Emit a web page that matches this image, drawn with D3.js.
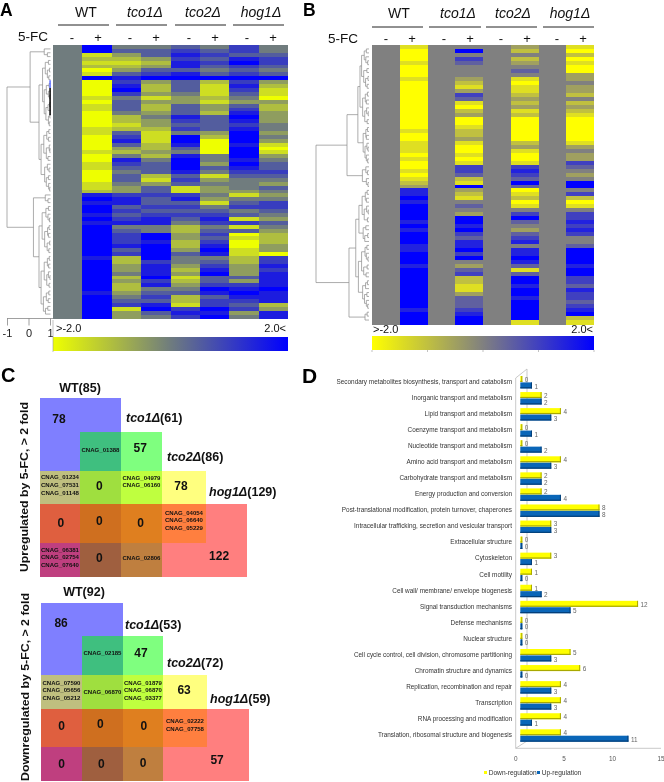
<!DOCTYPE html>
<html><head><meta charset="utf-8">
<script src="https://cdn.jsdelivr.net/npm/d3@7"></script>
<style>html,body{margin:0;padding:0;background:#fff}svg{display:block;filter:blur(0.35px)}text{font-family:"Liberation Sans",Arial,sans-serif}</style>
</head><body><div id="c"></div>
<script>
// ---------- Panel A heat map levels (0 = strong down/yellow, 4 = none/gray, 8 = strong up/blue)
const heatA_WT_minus=new Array(70).fill(4);
const heatA_WT_plus=[8,8,1,2,1,2,0,1,8,0, 0,0,0,1,0,1,1,0,0,0, 0,1,1,0,0,0,0,1,0,0, 1,1,0,0,0,1,1,2,7,8, 7,8,8,7,8,7,8,8,8,8, 8,8,8,8,7,8,8,8,8,8, 8,8,8,7,8,8,8,8,8,8];
const heatA_tco1_minus=[4,5,3,2,1,2,3,5,7,6, 7,8,6,4,5,5,5,4,2,2, 1,2,5,6,7,5,3,2,4,7, 6,5,4,5,5,4,3,3,6,7, 7,5,6,5,6,7,4,5,6,6, 6,7,5,6,2,2,3,3,4,2, 3,2,2,3,4,5,6,1,3,3];
const heatA_tco1_plus=[4,5,5,3,2,3,5,6,8,3, 2,2,3,1,3,2,2,3,4,3, 3,2,1,1,1,2,2,3,2,4, 5,5,5,2,1,3,5,5,6,5, 5,6,5,6,7,7,4,4,8,8, 7,8,8,8,8,6,7,7,7,8, 6,7,4,5,6,5,7,8,5,4];
const heatA_tco2_minus=[5,6,7,6,7,7,5,7,8,5, 5,5,4,3,3,5,5,5,7,6, 5,6,4,8,8,7,5,4,7,8, 8,8,7,5,6,5,1,1,6,7, 5,6,5,6,5,4,2,2,3,3, 2,2,3,5,4,4,3,2,3,1, 2,3,4,5,2,2,1,6,7,6];
const heatA_tco2_plus=[4,5,6,5,6,5,4,5,8,2, 1,1,1,2,1,3,3,2,5,5, 5,5,3,2,0,0,0,0,4,4, 3,5,4,1,3,4,3,3,4,3, 1,4,5,6,7,6,4,5,6,5, 6,7,8,7,4,5,6,7,8,5, 5,6,8,7,5,6,6,8,7,8];
const heatA_hog1_minus=[6,6,5,7,8,6,5,6,8,6, 7,6,5,4,3,5,6,7,8,7, 6,7,8,8,8,7,8,8,8,7, 8,7,6,5,4,4,4,3,1,4, 5,6,4,5,1,6,1,5,0,1, 0,0,1,1,2,2,3,3,3,5, 3,6,7,8,7,6,5,6,3,4];
const heatA_hog1_plus=[4,4,5,6,6,5,4,5,8,3, 2,1,1,0,3,2,2,3,3,3, 4,4,3,4,3,1,0,1,3,4, 5,5,6,5,4,3,5,4,3,4, 6,6,5,4,3,5,4,3,2,2, 2,3,3,0,6,6,7,6,7,7, 7,7,8,7,7,7,2,3,7,7];
// ---------- Panel B heat map levels
const heatB_WT_minus=new Array(70).fill(4);
const heatB_WT_plus=[1,0,0,0,1,0,0,0,1,0, 0,0,0,0,0,0,0,0,0,0, 0,1,0,0,1,1,1,0,1,0, 0,1,0,1,2,3,7,7,8,7, 8,8,8,8,7,8,7,8,8,8, 7,7,8,8,8,7,8,8,8,8, 8,8,8,8,8,8,7,8,8,8];
const heatB_tco1_plus=[4,8,4,6,5,4,4,4,3,2, 1,3,6,5,1,0,2,3,0,0, 1,2,2,3,1,0,0,1,0,1, 6,6,5,2,1,8,3,2,1,4, 5,4,3,8,8,7,8,6,5,7, 7,8,6,8,4,3,5,6,2,2, 1,1,3,5,5,5,6,7,8,8];
const heatB_tco2_plus=[3,2,4,2,3,4,5,4,1,0, 1,1,2,3,2,3,1,2,0,0, 0,0,0,0,2,3,1,0,0,1, 6,7,6,5,8,5,0,1,2,0, 1,4,6,8,5,4,3,5,6,7, 4,7,7,8,7,5,1,5,8,8, 7,8,8,7,8,8,8,8,8,1];
const heatB_hog1_plus=[1,0,2,0,1,0,0,3,3,4, 3,3,2,4,2,3,2,1,0,0, 0,0,0,0,1,3,4,3,3,6, 5,4,3,4,8,8,4,6,2,0, 1,4,6,6,7,6,7,6,4,4, 5,8,8,8,8,7,8,8,6,6, 5,7,6,6,5,6,7,8,2,1];
const strains=["WT","tco1","tco2","hog1"];
const fcSigns=["-","+","-","+","-","+","-","+"];
// ---------- Dendrograms: [correlation, child, child]; 1 = a gene leaf
const dendroA=[-1,
 [0.05,[0.7,1,[0.85,1,1]],
  [0.45,
   [0.62,[0.75,[0.9,1,1],[0.85,[0.95,1,1],[0.92,1,1]]],
         [0.7,[0.8,[0.93,1,1],[0.9,1,[0.96,1,1]]],[0.78,[0.88,[0.95,1,1],1],[0.9,[0.97,1,1],[0.94,1,1]]]]],
   [0.55,[0.68,[0.82,[0.92,1,1],[0.9,1,1]],[0.8,[0.94,1,[0.97,1,1]],[0.88,1,1]]],
         [0.72,[0.85,1,[0.93,1,1]],[0.8,[0.9,1,1],[0.91,1,[0.96,1,1]]]]]]],
 [0.2,[0.75,1,[0.88,1,1]],
  [0.45,
   [0.6,[0.78,[0.9,1,1],[0.88,1,[0.95,1,1]]],[0.72,[0.86,[0.93,1,1],[0.9,1,1]],[0.84,[0.96,1,1],[0.92,1,1]]]],
   [0.55,[0.7,[0.85,[0.94,1,1],[0.91,1,1]],[0.82,[0.9,1,[0.97,1,1]],[0.93,1,1]]],
         [0.66,[0.8,[0.92,1,1],[0.89,1,1]],[0.76,[0.87,1,1],1]]]]]];
const dendroB=[-1,
 [0.17,
  [0.58,
   [0.66,[0.72,[0.82,[0.9,1,1],[0.88,1,[0.95,1,1]]],[0.8,[0.92,1,1],[0.87,[0.96,1,1],[0.93,1,1]]]],
         [0.76,[0.86,[0.94,1,1],[0.9,1,1]],[0.84,[0.91,1,[0.97,1,1]],[0.93,1,1]]]],
   [0.78,[0.88,[0.94,1,1],[0.9,1,1]],[0.85,[0.92,1,[0.96,1,1]],[0.9,1,[0.95,1,1]]]]],
  [0.75,[0.88,1,[0.94,1,1]],[0.9,1,[0.96,1,1]]]],
 [0.245,
  [0.5,
   [0.62,[0.74,[0.86,[0.93,1,1],[0.9,1,1]],[0.82,[0.91,1,[0.97,1,1]],[0.94,1,1]]],[0.78,[0.88,1,1],[0.84,[0.95,1,1],1]]],
   [0.6,[0.72,[0.85,[0.92,1,1],[0.9,1,[0.96,1,1]]],[0.8,[0.93,1,1],[0.89,1,1]]],[0.76,[0.87,[0.94,1,1],1],[0.83,[0.92,1,1],[0.9,1,[0.95,1,1]]]]]],
  [0.85,[0.93,1,1],1]]];
const dendroTicks=[-1,0,1];
const dendroMarkedRows=[[9,11,"#5a6cff"],[11,18,"#000"]];
// ---------- Panel C: overlap table. Sets span [col0,col1,row0,row1] of a 5x5 grid
const setSpans=[[0,2,0,5],[1,3,1,5],[0,4,2,4],[0,5,3,5]];
const setColors=["#0000ff","#00ff00","#ffff00","#ff0000"];
const upSetNames=[["WT","(85)"],["tco1Δ","(61)"],["tco2Δ","(86)"],["hog1Δ","(129)"]];
const downSetNames=[["WT","(92)"],["tco1Δ","(53)"],["tco2Δ","(72)"],["hog1Δ","(59)"]];
const upCounts=[[0.475,0.62,"78"],[2.47,1.41,"57"],[3.43,2.45,"78"],[4.32,4.38,"122"],[1.47,2.45,"0"],[0.52,3.47,"0"],[1.47,3.42,"0"],[2.48,3.47,"0"],[1.47,4.44,"0"]];
const upGenes=[[1.5,1.45,["CNAG_01388"]],[0.5,2.42,["CNAG_01234","CNAG_07531","CNAG_01148"]],[2.5,2.32,["CNAG_04979","CNAG_06160"]],[3.5,3.42,["CNAG_04054","CNAG_06640","CNAG_05229"]],[0.5,4.42,["CNAG_06381","CNAG_02754","CNAG_07640"]],[2.5,4.45,["CNAG_02806"]]];
const downCounts=[[0.49,0.6,"86"],[2.45,1.44,"47"],[3.48,2.44,"63"],[4.24,4.38,"57"],[0.5,3.45,"0"],[1.45,3.4,"0"],[2.52,3.45,"0"],[0.5,4.5,"0"],[1.47,4.5,"0"],[2.5,4.47,"0"]];
const downGenes=[[1.5,1.44,["CNAG_02185"]],[0.5,2.45,["CNAG_07590","CNAG_05656","CNAG_05212"]],[1.5,2.5,["CNAG_06870"]],[2.5,2.45,["CNAG_01879","CNAG_06870","CNAG_03377"]],[3.5,3.42,["CNAG_02222","CNAG_07758"]]];
// ---------- Panel D
const categories=["Secondary metabolites biosynthesis, transport and catabolism","Inorganic transport and metabolism","Lipid transport and metabolism","Coenzyme transport and metabolism","Nucleotide transport and metabolism","Amino acid transport and metabolism","Carbohydrate transport and metabolism","Energy production and conversion","Post-translational modification, protein turnover, chaperones","Intracellular trafficking, secretion and vesicular transport","Extracellular structure","Cytoskeleton","Cell motility","Cell wall/ membrane/ envelope biogenesis","Signal transduction mechanisms","Defense mechanisms","Nuclear structure","Cell cycle control, cell division, chromosome partitioning","Chromatin structure and dynamics","Replication, recombination and repair","Transcription","RNA processing and modification","Translation, ribosomal structure and biogenesis"];
const downRegulation=[0,2,4,0,0,4,2,2,8,3,0,3,1,1,12,0,0,5,6,4,4,4,4];
const upRegulation=[1,2,3,1,2,3,2,4,8,3,0,1,0,2,5,0,0,3,0,3,3,1,11];
const barTicks=[0,5,10,15];
const legendNames=["Down-regulation","Up-regulation"];

const svg=d3.select("#c").append("svg").attr("width",664).attr("height",782).attr("viewBox","0 0 664 782");
const defs=svg.append("defs");
defs.append("filter").attr("id","soft").attr("x","-2%").attr("y","-2%").attr("width","104%").attr("height","104%").append("feGaussianBlur").attr("stdDeviation","0 0.55");
const txt=(x,y,s,o={})=>{const t=svg.append("text").attr("x",x).attr("y",y).attr("font-size",o.size||12).attr("fill",o.fill||"#111").attr("text-anchor",o.anchor||"start").text(s);
  if(o.bold)t.attr("font-weight","bold");if(o.italic)t.attr("font-style","italic");if(o.len)t.attr("textLength",o.len).attr("lengthAdjust","spacingAndGlyphs");return t;};

function heat(cols,x0,x1,y0,y1,colors){
  const g=svg.append("g").attr("shape-rendering","crispEdges").attr("filter","url(#soft)");
  const color=d3.scaleLinear().domain([-2,0,2]).range(colors);
  const X=d3.scaleBand().domain(d3.range(cols.length)).range([x0,x1]);
  const Y=d3.scaleBand().domain(d3.range(70)).range([y0,y1]);
  cols.forEach((c,i)=>g.selectAll(null).data(c).join("rect")
    .attr("x",X(i)).attr("width",X.bandwidth()+(i<cols.length-1?0.5:0))
    .attr("y",(d,r)=>Y(r)).attr("height",Y.bandwidth()+(0.5))
    .attr("fill",d=>color((d-4)/2)));
  return color;
}
function colorBar(id,color,x0,x1,y0,y1){
  const lg=defs.append("linearGradient").attr("id",id);
  d3.range(-2,2.01,0.5).forEach(v=>lg.append("stop").attr("offset",(v+2)/4).attr("stop-color",color(v)));
  svg.append("rect").attr("x",x0).attr("y",y0).attr("width",x1-x0).attr("height",y1-y0).attr("fill",`url(#${id})`);
}
function dendro(tree,xs,y0,y1,stroke){
  const root=d3.hierarchy(tree,d=>Array.isArray(d)?d.slice(1):null);
  d3.cluster().size([y1-y0,1]).separation(()=>1)(root);
  const val=n=>Array.isArray(n.data)?n.data[0]:1;
  const path=d3.path();
  root.descendants().filter(n=>n.children).forEach(n=>{
    const vx=xs(val(n));
    path.moveTo(vx,y0+n.children[0].x);path.lineTo(vx,y0+n.children[n.children.length-1].x);
    n.children.forEach(c=>{path.moveTo(vx,y0+c.x);path.lineTo(xs(val(c)),y0+c.x);});
  });
  svg.append("path").attr("d",path.toString()).attr("fill","none").attr("stroke",stroke).attr("stroke-width",0.7);
}
function strainHeader(lines,centers,baseLine,lineY,signs,signY,fcX,fcY){
  strains.forEach((s,i)=>{
    const t=txt(centers[i],baseLine,s,{size:14,anchor:"middle",fill:"#111"});
    if(s!="WT"){t.attr("font-style","italic").append("tspan").attr("font-style","italic").text("Δ");}
    svg.append("line").attr("x1",lines[i][0]).attr("x2",lines[i][1]).attr("y1",lineY).attr("y2",lineY).attr("stroke","#222").attr("stroke-width",1);
  });
  fcSigns.forEach((s,i)=>txt(signs[i],signY,s,{size:13,anchor:"middle"}));
  txt(fcX,fcY,"5-FC",{size:13.5});
}

// Panel A
txt(0,16,"A",{size:17.5,bold:true,fill:"#000"});
strainHeader([[58,109],[116,167],[175,226],[233,284]],[86,145,203,261],17,25,[72,98,130,156,189,215,247,273],42,18,41);
const colA=heat([heatA_WT_minus,heatA_WT_plus,heatA_tco1_minus,heatA_tco1_plus,heatA_tco2_minus,heatA_tco2_plus,heatA_hog1_minus,heatA_hog1_plus],53,288,45,318.5,["#eeff00","#6f7c7e","#0000ff"]);
const xsA=d3.scaleLinear().domain([-1,0,0.45,1]).range([7,29,39,50.5]);
dendro(dendroA,xsA,47,316,"#8a8a8a");
const rowA=d3.scaleLinear().domain([0,70]).range([45,318.5]);
svg.append("g").selectAll("line").data(dendroMarkedRows).join("line").attr("x1",xsA(0.98)).attr("x2",xsA(0.98)).attr("y1",d=>rowA(d[0])).attr("y2",d=>rowA(d[1])).attr("stroke",d=>d[2]).attr("stroke-width",1.5);
const axA=svg.append("g").attr("transform","translate(0,318.5)").call(d3.axisBottom(d3.scaleLinear().domain([-1,1]).range([7,50])).tickValues(dendroTicks).tickFormat(d=>d).tickSize(7).tickPadding(4));
axA.selectAll("path,line").attr("stroke","#777").attr("stroke-width",0.7);
axA.selectAll("text").attr("font-size",11).attr("fill","#222").attr("font-family","Liberation Sans Narrow, Liberation Sans");
axA.select(".domain").attr("d","M7,0H53");
txt(56,332,">-2.0",{size:11});
txt(286,332,"2.0<",{size:11,anchor:"end"});
colorBar("ga",colA,53,288,337,351);
svg.append("line").attr("x1",53).attr("x2",53).attr("y1",320).attr("y2",352).attr("stroke","#999").attr("stroke-width",0.6);

// Panel B
txt(303,16,"B",{size:17.5,bold:true,fill:"#000"});
strainHeader([[372,423],[429,481],[486,537],[543,594]],[399,458,513,570],18,27,[386,412,444,470,501,527,557,583],43,328,43);
const colB=heat([heatB_WT_minus,heatB_WT_plus,heatB_WT_minus,heatB_tco1_plus,heatB_WT_minus,heatB_tco2_plus,heatB_WT_minus,heatB_hog1_plus],372,594,45,324,["#ffff00","#808080","#0000ff"]);
const xsB=d3.scaleLinear().domain([-1,1]).range([316,369]);
dendro(dendroB,xsB,47,322,"#8a8a8a");
txt(373,333,">-2.0",{size:11});
txt(593,333,"2.0<",{size:11,anchor:"end"});
colorBar("gb",colB,372,594,336,350);
const tickB=d3.scaleLinear().domain([-2,2]).range([372,594]);
svg.selectAll(null).data([-2,-1,0,1,2]).join("line").attr("x1",d=>tickB(d)).attr("x2",d=>tickB(d)).attr("y1",350).attr("y2",352).attr("stroke","#999").attr("stroke-width",0.6);

// Panel C
function overlap(xE,yE,names,titlePos,counts,genes){
  const X=d3.scaleLinear().domain([0,1,2,3,4,5]).range(xE), Y=d3.scaleLinear().domain([0,1,2,3,4,5]).range(yE);
  const g=svg.append("g");
  g.selectAll("rect").data(setSpans).join("rect")
    .attr("x",d=>X(d[0])).attr("width",d=>X(d[1])-X(d[0])).attr("y",d=>Y(d[2])).attr("height",d=>Y(d[3])-Y(d[2]))
    .attr("fill",(d,i)=>setColors[i]).attr("fill-opacity",0.5);
  names.forEach((n,i)=>{
    const t=txt(titlePos[i][0],titlePos[i][1],"",{size:12.5,bold:true,anchor:i==0?"middle":"start",fill:"#111"});
    t.append("tspan").attr("font-style",i==0?"normal":"italic").text(n[0]);
    t.append("tspan").text(n[1]);
  });
  svg.append("g").selectAll("text").data(counts).join("text").attr("x",d=>X(d[0])).attr("y",d=>Y(d[1])).attr("dy","0.35em")
    .attr("text-anchor","middle").attr("font-size",12).attr("font-weight","bold").attr("fill","#111").text(d=>d[2]);
  genes.forEach(d=>d[2].forEach((s,i)=>txt(X(d[0]),Y(d[1])+(i-(d[2].length-1)/2)*7.7+2,s,{size:5.9,anchor:"middle",fill:"#111",bold:true,len:38})));
}
txt(1,382,"C",{size:20,bold:true,fill:"#000"});
overlap([40,80,121,162,206,247],[398,432,471,504,543,577],upSetNames,[[80,392],[126,422],[167,461],[209,496]],upCounts,upGenes);
overlap([41,82,123,163,207,249],[603,636,675,709,747,781],downSetNames,[[84,596],[125,629],[167,667],[210,703]],downCounts,downGenes);
txt(0,0,"Upregulated by 5-FC, > 2 fold",{size:11.5,bold:true,len:170}).attr("transform","translate(27.5,572) rotate(-90)");
txt(0,0,"Downregulated by 5-FC, > 2 fold",{size:11.5,bold:true,len:188}).attr("transform","translate(28.5,781) rotate(-90)");

// Panel D
txt(302,383,"D",{size:21,bold:true,fill:"#000"});
const barX=d3.scaleLinear().domain([0,15]).range([522.3,667]);
const axisX=d3.scaleLinear().domain([0,15]).range([515.7,661]);
const rowY=d3.scalePoint().domain(categories).range([381.7,735]);
const wall=svg.append("g").attr("stroke","#bbb").attr("stroke-width",0.8).attr("fill","none");
wall.append("path").attr("d","M515.7,378L527,369V741L515.7,748.3V378M515.7,748.3H661");
svg.append("g").selectAll("text").data(categories).join("text").attr("x",512).attr("y",d=>rowY(d)).attr("dy","0.33em").attr("text-anchor","end").attr("font-size",6.4).attr("fill","#333").text(d=>d);
function barSeries(vals,off,fill,edge,labelOff){
  const g=svg.append("g");
  const rows=g.selectAll("g").data(vals).join("g");
  rows.append("rect").attr("x",520.3).attr("y",(d,i)=>rowY(categories[i])+off).attr("width",d=>barX(d)-520.3).attr("height",6).attr("fill",fill);
  rows.append("rect").attr("x",520.3).attr("y",(d,i)=>rowY(categories[i])+off+4.8).attr("width",d=>barX(d)-520.3).attr("height",1.2).attr("fill",edge);
  rows.append("rect").attr("x",d=>barX(d)-1).attr("y",(d,i)=>rowY(categories[i])+off).attr("width",1).attr("height",6).attr("fill",edge);
  rows.append("text").attr("x",d=>barX(d)+2.5).attr("y",(d,i)=>rowY(categories[i])+labelOff).attr("dy","0.33em").attr("font-size",6.4).attr("fill","#666").text(d=>d);
}
barSeries(downRegulation,-5.7,"#ffff00","#a8a800",-2);
barSeries(upRegulation,0.7,"#0a66b8","#043f78",4.7);
svg.append("g").selectAll("text").data(barTicks).join("text").attr("x",d=>axisX(d)).attr("y",761).attr("text-anchor","middle").attr("font-size",6.4).attr("fill","#555").text(d=>d);
const legendX=[484,537], legendTextX=[488.7,541.7];
legendNames.forEach((n,i)=>{
  svg.append("rect").attr("x",legendX[i]).attr("y",771).attr("width",3).attr("height",3).attr("fill",i==0?"#ffff00":"#0a66b8");
  txt(legendTextX[i],775,n,{size:6.6,fill:"#333"});
});
</script></body></html>
